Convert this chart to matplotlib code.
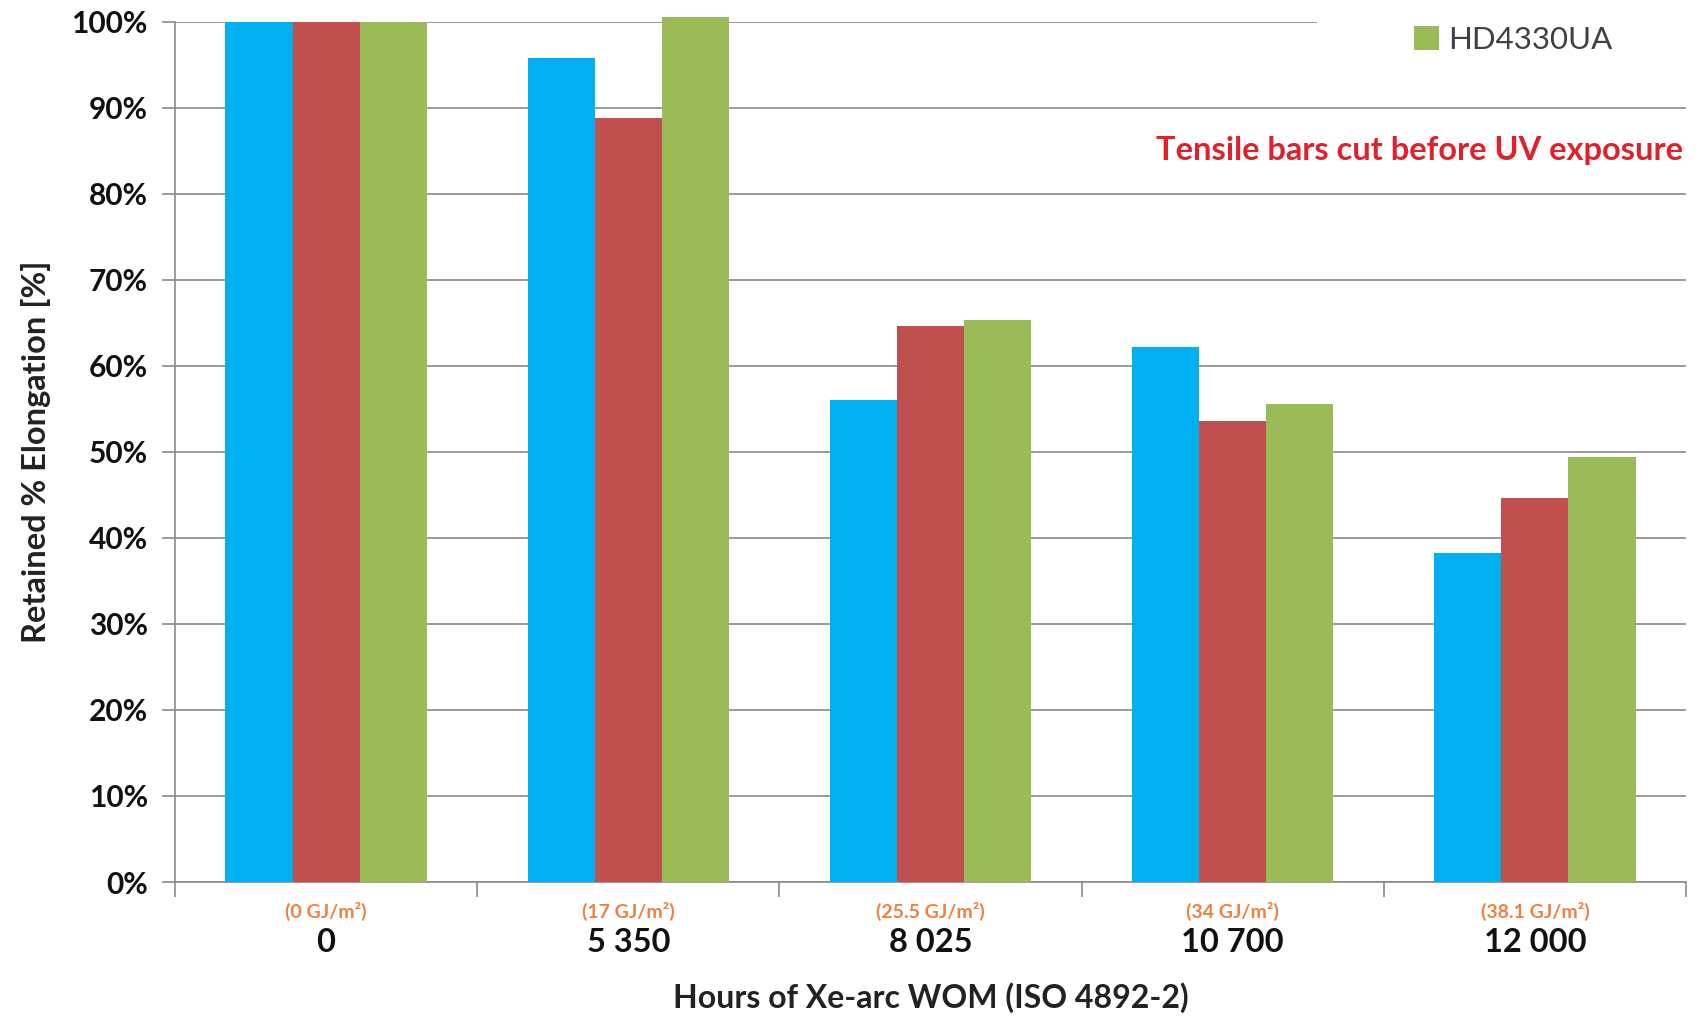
import matplotlib
matplotlib.use("Agg")
import matplotlib.pyplot as plt
from matplotlib.patches import Rectangle
import numpy as np

# Data
hours = ["0", "5 350", "8 025", "10 700", "12 000"]
radiant = ["(0 GJ/m²)", "(17 GJ/m²)", "(25.5 GJ/m²)", "(34 GJ/m²)", "(38.1 GJ/m²)"]
series_blue = [100.0, 95.8, 56.0, 62.2, 38.2]
series_red = [100.0, 88.8, 64.6, 53.6, 44.6]
series_green = [100.0, 100.6, 65.3, 55.6, 49.4]
legend_name = "HD4330UA"
note = "Tensile bars cut before UV exposure"
yticks = [0, 10, 20, 30, 40, 50, 60, 70, 80, 90, 100]

colors = ["#00B0F0", "#C0504D", "#9BBB59"]
font = "Lato"
plt.rcParams["font.family"] = [font, "DejaVu Sans"]

fig = plt.figure(figsize=(17.02, 10.18), dpi=100)
ax = fig.add_axes([175 / 1702, 1 - 882 / 1018, (1686 - 175) / 1702, (882 - 21.7) / 1018])

x = np.arange(len(hours))
w = 0.222
for k, (vals, c) in enumerate(zip([series_blue, series_red, series_green], colors)):
    ax.bar(x + (k - 1) * w, vals, width=w, color=c, zorder=3, clip_on=False,
           linewidth=0, label=legend_name if k == 2 else None)

ax.set_xlim(-0.5, len(hours) - 0.5)
ax.set_ylim(0, 100)

# grid & spines
ax.set_yticks(yticks)
ax.set_yticklabels([f"{v}%" for v in yticks], fontsize=21.5, fontweight="bold", color="#111111")
ax.yaxis.grid(True, color="#8a8a8a", linewidth=1.2, zorder=0)
ax.set_axisbelow(True)
for s in ["top", "right"]:
    ax.spines[s].set_visible(False)
for s in ["left", "bottom"]:
    ax.spines[s].set_color("#8a8a8a")
    ax.spines[s].set_linewidth(1.2)
ax.tick_params(axis="y", length=9.5, width=1.2, color="#8a8a8a", pad=10)

# x ticks: labels at centres, tick marks at category boundaries
ax.set_xticks(x)
ax.set_xticklabels(hours, fontsize=23.5, fontweight="bold", color="#111111")
ax.tick_params(axis="x", which="major", length=0, pad=33)
ax.set_xticks(np.arange(-0.5, len(hours)), minor=True)
ax.tick_params(axis="x", which="minor", length=11, width=1.2, color="#8a8a8a")

trans = matplotlib.transforms.blended_transform_factory(ax.transData, ax.transAxes)
for xi, r in zip(x, radiant):
    ax.text(xi, -29 / 860.3, r, transform=trans, ha="center", va="center",
            fontsize=14, fontweight="bold", color="#EF8040")

ax.set_ylabel("Retained % Elongation [%]", fontsize=23.5, fontweight="bold", color="#222222", labelpad=15)
ax.set_xlabel("Hours of Xe-arc WOM (ISO 4892-2)", fontsize=23, fontweight="bold", color="#222222", labelpad=18)

# white legend panel
ax.add_patch(Rectangle((0.756, 0.95), 0.3, 0.08, transform=ax.transAxes, facecolor="white",
                       edgecolor="none", zorder=2, clip_on=False))
leg = ax.legend(loc="upper right", bbox_to_anchor=(0.97, 1.028), frameon=False, fontsize=22.5,
                handlelength=0.8, handleheight=0.8, handletextpad=0.3)
for t in leg.get_texts():
    t.set_color("#404040")

ax.text(0.998, 0.850, note, transform=ax.transAxes, ha="right", va="center",
        fontsize=23.5, fontweight="bold", color="#E0202A")

fig.savefig("out.png", dpi=100)
